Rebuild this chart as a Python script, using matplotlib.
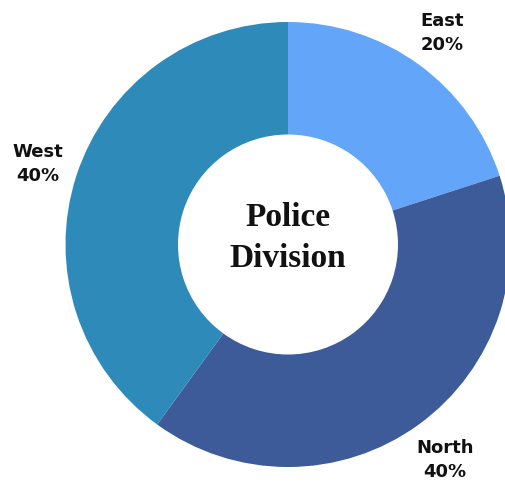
import matplotlib.pyplot as plt

labels = ['East', 'North', 'West']
shares = [20, 40, 40]
colors = ['#63A6F9', '#3D5A99', '#2E8AB8']

fig = plt.figure(figsize=(5.05, 4.83), dpi=100)
ax = fig.add_axes([0, 0, 1, 1])

cx, cy, r_out, r_in = 288, 238.5, 222.5, 110
wedges, _ = ax.pie(shares, colors=colors, startangle=90, counterclock=False,
                   center=(cx, cy), radius=r_out, frame=True,
                   wedgeprops=dict(width=r_out - r_in, linewidth=0))
ax.set_xlim(0, 505)
ax.set_ylim(0, 483)
ax.set_aspect('equal')
ax.axis('off')

# label positions (pixels from top-left)
label_pos = [(442, 33), (445, 460), (38, 164)]
for lab, val, (x, y) in zip(labels, shares, label_pos):
    ax.text(x, 483 - y, f'{lab}\n{val}%', ha='center', va='center',
            fontsize=13, fontweight='bold', family='DejaVu Sans',
            color='#111111', linespacing=1.4)

ax.text(cx, 483 - 238, 'Police\nDivision', ha='center', va='center',
        fontsize=24, fontweight='bold', family='Liberation Serif',
        color='#111111', linespacing=1.4)

fig.savefig('out.png', dpi=100)
